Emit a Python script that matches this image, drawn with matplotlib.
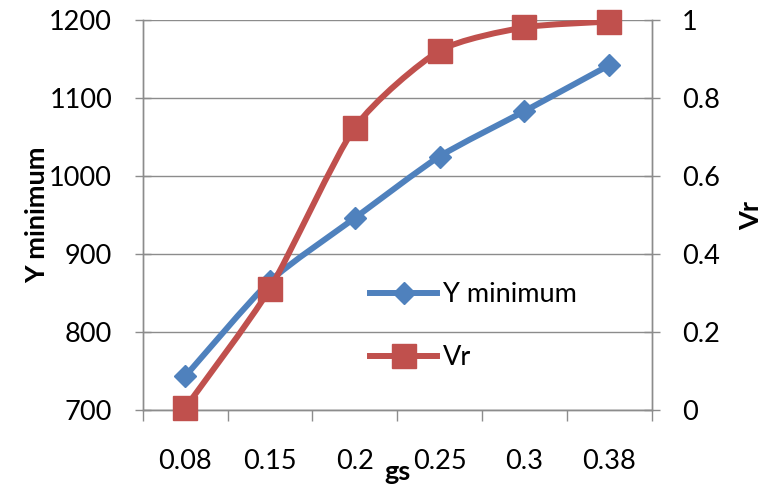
import numpy as np
import matplotlib
matplotlib.use("Agg")
import matplotlib.pyplot as plt
from matplotlib.path import Path
from matplotlib.patches import PathPatch
from matplotlib.lines import Line2D

# data
gs_labels = ["0.08", "0.15", "0.2", "0.25", "0.3", "0.38"]
y_minimum = [743, 865, 946, 1025, 1083, 1142]
vr = [0.005, 0.311, 0.724, 0.921, 0.981, 0.996]

BLUE = "#4F81BD"
RED = "#C0504D"
GRID = "#8C8C8C"
FONT = "Lato"
FS = 19.5

plt.rcParams["font.family"] = [FONT, "DejaVu Sans"]


def smooth_path(xs, ys, k=1 / 9.0):
    """Cubic Bezier path through the points (cardinal spline)."""
    pts = np.column_stack([xs, ys]).astype(float)
    n = len(pts)
    verts = [pts[0]]
    codes = [Path.MOVETO]
    for i in range(n - 1):
        p0 = pts[i - 1] if i > 0 else pts[i]
        p1 = pts[i]
        p2 = pts[i + 1]
        p3 = pts[i + 2] if i + 2 < n else pts[i + 1]
        c1 = p1 + (p2 - p0) * k
        c2 = p2 - (p3 - p1) * k
        verts += [c1, c2, p2]
        codes += [Path.CURVE4] * 3
    return Path(verts, codes)


fig = plt.figure(figsize=(7.64, 4.95), dpi=100)
ax = fig.add_axes([142.7 / 764, 1 - 410 / 495, (651.5 - 142.7) / 764, 390 / 495])
ax2 = ax.twinx()

x = np.arange(len(gs_labels))

ax.add_patch(PathPatch(smooth_path(x, y_minimum), fill=False, edgecolor=BLUE,
                       lw=4.3, capstyle="round", joinstyle="round", zorder=3))
ax.plot(x, y_minimum, linestyle="none", marker="D", ms=11.5, color=BLUE,
        zorder=4, clip_on=False)

ax2.add_patch(PathPatch(smooth_path(x, vr), fill=False, edgecolor=RED,
                        lw=4.3, capstyle="round", joinstyle="round", zorder=3))
ax2.plot(x, vr, linestyle="none", marker="s", ms=17.5, color=RED,
         zorder=4, clip_on=False)

ax.set_xlim(-0.5, len(gs_labels) - 0.5)
ax.set_ylim(700, 1200)
ax2.set_ylim(0, 1)
ax.set_yticks(np.arange(700, 1201, 100))
ax2.set_yticks([0, 0.2, 0.4, 0.6, 0.8, 1.0])
ax2.set_yticklabels(["0", "0.2", "0.4", "0.6", "0.8", "1"])

ax.set_xticks(x)
ax.set_xticklabels(gs_labels)
ax.set_xticks(np.arange(-0.5, len(gs_labels)), minor=True)
ax.tick_params(axis="x", which="major", length=0, pad=28, labelsize=FS)
ax.tick_params(axis="x", which="minor", length=8, width=1, color=GRID,
               direction="out")
ax.tick_params(axis="y", length=12, width=1, color=GRID, direction="inout",
               pad=16, labelsize=FS)
ax2.tick_params(axis="y", length=12, width=1, color=GRID, direction="inout",
                pad=16, labelsize=FS)

ax.grid(axis="y", color=GRID, lw=1)
ax.set_axisbelow(True)
for a in (ax, ax2):
    for s in ("left", "right", "bottom"):
        a.spines[s].set_color(GRID)
        a.spines[s].set_linewidth(1)
    a.spines["top"].set_visible(False)

ax.set_ylabel("Y minimum", fontsize=FS, fontweight="bold", labelpad=0)
ax2.set_ylabel("Vr", fontsize=FS, fontweight="bold", labelpad=14)
ax.set_xlabel("gs", fontsize=FS, fontweight="bold", labelpad=-10)

handles = [
    Line2D([], [], color=BLUE, lw=4.3, marker="D", ms=11.5),
    Line2D([], [], color=RED, lw=4.3, marker="s", ms=17.5),
]
ax2.legend(handles, ["Y minimum", "Vr"], loc="upper left",
           bbox_to_anchor=(0.425, 0.355), frameon=False, fontsize=FS,
           handlelength=2.5, handletextpad=0.2, labelspacing=1.4,
           borderaxespad=0)

fig.savefig("out.png", dpi=100)
